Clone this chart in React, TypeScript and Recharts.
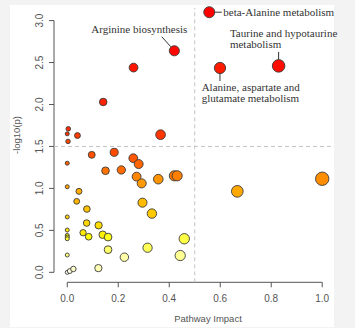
import React from 'react';
import { ScatterChart, Scatter, XAxis, YAxis, ReferenceLine } from 'recharts';

// Pathway impact (x) and -log10(p) (y) for each pathway
const impact = [
  0.557, 0.42, 0.26, 0.599, 0.829, 0.141, 0.366, 0.004, 0.0, 0.04,
  0.003, 0.096, 0.184, 0.259, 0.28, 0.0, 0.15, 0.212, 0.272, 0.292,
  0.357, 0.42, 0.431, 1.0, 0.667, 0.0, 0.046, 0.037, 0.077, 0.295,
  0.332, 0.0, 0.076, 0.123, 0.0, 0.062, 0.0, 0.0, 0.0, 0.084,
  0.139, 0.16, 0.16, 0.224, 0.315, 0.459, 0.443, 0.0, 0.122, 0.0,
  0.01, 0.024,
];
const logP = [
  3.10, 2.64, 2.44, 2.435, 2.46, 2.03, 1.64, 1.71, 1.65, 1.63,
  1.56, 1.40, 1.43, 1.36, 1.29, 1.30, 1.21, 1.22, 1.14, 1.06,
  1.11, 1.15, 1.15, 1.115, 0.965, 1.02, 0.965, 0.846, 0.754, 0.83,
  0.70, 0.66, 0.587, 0.56, 0.504, 0.472, 0.44, 0.42, 0.40, 0.424,
  0.448, 0.42, 0.27, 0.18, 0.293, 0.40, 0.20, 0.206, 0.05, 0.0,
  0.015, 0.04,
];
const pathwayLabels = [
  'beta-Alanine metabolism',
  'Arginine biosynthesis',
  '',
  'Alanine, aspartate and|glutamate metabolism',
  'Taurine and hypotaurine|metabolism',
];

const xTicks = [0, 0.2, 0.4, 0.6, 0.8, 1.0];
const yTicks = [0, 0.5, 1.0, 1.5, 2.0, 2.5, 3.0];
const xDomain = [-0.052, 1.036];
const yDomain = [-0.119, 3.15];
const impactCutoff = 0.5;
const pCutoff = 1.5;

// ---- colour (R heat.colors by rank) ----
function hsvHex(h: number, s: number, v: number) {
  const i = Math.floor(h * 6);
  const f = h * 6 - i;
  const p = v * (1 - s);
  const q = v * (1 - f * s);
  const t = v * (1 - (1 - f) * s);
  let r = 0, g = 0, b = 0;
  switch (i % 6) {
    case 0: r = v; g = t; b = p; break;
    case 1: r = q; g = v; b = p; break;
    case 2: r = p; g = v; b = t; break;
    case 3: r = p; g = q; b = v; break;
    case 4: r = t; g = p; b = v; break;
    default: r = v; g = p; b = q;
  }
  const h2 = (x: number) => Math.round(x * 255).toString(16).padStart(2, '0');
  return '#' + h2(r) + h2(g) + h2(b);
}
function heatColors(n: number) {
  const j = Math.floor(n / 4);
  const i = n - j;
  const out: string[] = [];
  for (let k = 0; k < i; k++) out.push(hsvHex((k / (i - 1)) * (1 / 6), 1, 1));
  for (let k = 0; k < j; k++) {
    const s0 = 1 - 1 / (2 * j), s1 = 1 / (2 * j);
    const s = j > 1 ? s0 + (s1 - s0) * (k / (j - 1)) : s0;
    out.push(hsvHex(1 / 6, s, 1));
  }
  return out;
}

const n = impact.length;
const palette = heatColors(n);
const order = logP.map((v, i) => i).sort((a, b) => logP[b] - logP[a]);
const colorOf: string[] = new Array(n);
order.forEach((idx, rank) => { colorOf[idx] = palette[rank]; });

const points = impact.map((x, i) => ({
  impact: x,
  logp: logP[i],
  color: colorOf[i],
  label: pathwayLabels[i] || '',
}));
const labeled = points.filter((p) => p.label);

const radiusOf = (x: number) => 2 + 4.7 * Math.sqrt(x);

const Dot = (props: any) => {
  const { cx, cy, payload } = props;
  if (cx == null || cy == null) return null;
  return (
    <circle cx={cx} cy={cy} r={radiusOf(payload.impact)} fill={payload.color}
      stroke="#3a3a3a" strokeWidth={0.9} />
  );
};

const serif = '"Liberation Serif", "Times New Roman", serif';
const sans = '"Liberation Sans", Arial, sans-serif';

const Note = (props: any) => {
  const { cx, cy, payload } = props;
  if (cx == null || cy == null) return null;
  const r = radiusOf(payload.impact);
  const lines: string[] = payload.label.split('|');
  const common = { fontFamily: serif, fontSize: 11, fill: '#333' } as any;
  const ln = { stroke: '#333', strokeWidth: 1 };
  if (lines[0].startsWith('beta')) {
    return (
      <g>
        <line x1={cx + r} y1={cy} x2={cx + r + 7} y2={cy} {...ln} />
        <text x={cx + r + 8.5} y={cy + 3.5} {...common}>{lines[0]}</text>
      </g>
    );
  }
  if (lines[0].startsWith('Arginine')) {
    return (
      <g>
        <line x1={cx - 12.5} y1={cy - 14} x2={cx - 3.5} y2={cy - 4} {...ln} />
        <text x={cx - 35} y={cy - 18.2} textAnchor="middle" {...common}>{lines[0]}</text>
      </g>
    );
  }
  if (lines[0].startsWith('Taurine')) {
    return (
      <g>
        <line x1={cx} y1={cy - 14} x2={cx} y2={cy - r} {...ln} />
        <text x={cx - 48.7} y={cy - 29} {...common}>{lines[0]}</text>
        <text x={cx - 48.7} y={cy - 17.5} {...common}>{lines[1]}</text>
      </g>
    );
  }
  return (
    <g>
      <line x1={cx} y1={cy + r} x2={cx} y2={cy + 13} {...ln} />
      <text x={cx - 18.3} y={cy + 22.8} {...common}>{lines[0]}</text>
      <text x={cx - 18.3} y={cy + 33.8} {...common}>{lines[1]}</text>
    </g>
  );
};

const YTick = (props: any) => {
  const { x, y, payload } = props;
  return (
    <text x={x} y={y} transform={`rotate(-90, ${x}, ${y})`} textAnchor="middle"
      fontSize={10} fill="#555" fontFamily={sans}>
      {Number(payload.value).toFixed(1)}
    </text>
  );
};

const XTitle = () => (
  <text x={208} y={322} textAnchor="middle" fontSize={9.5} fill="#555" fontFamily={sans}>
    Pathway Impact
  </text>
);
const YTitle = () => (
  <text x={20} y={135} transform="rotate(-90, 20, 135)" textAnchor="middle" fontSize={9.5}
    fill="#555" fontFamily={sans}>
    -log10(p)
  </text>
);

export default function App() {
  return (
    <div style={{ position: 'absolute', left: 0, top: 0, width: 355, height: 328, background: '#f3f3f3' }}>
      <div style={{ position: 'absolute', left: 10, top: 5, width: 324, height: 322, background: '#ffffff' }} />
      <div style={{ position: 'absolute', left: 0, top: 0 }}>
        <ScatterChart width={355} height={328} margin={{ top: 8, right: 23.6, bottom: 0, left: 0 }}>
          <XAxis type="number" dataKey="impact" domain={xDomain} ticks={xTicks}
            axisLine={false} tickSize={5} tickMargin={8} height={45.7}
            tickLine={{ stroke: '#555' }}
            tick={{ fontSize: 10, fill: '#555', fontFamily: sans }}
            tickFormatter={(v: number) => v.toFixed(1)}
            label={<XTitle />} />
          <YAxis type="number" dataKey="logp" domain={yDomain} ticks={yTicks}
            axisLine={false} tickSize={5} tickMargin={6} width={54}
            tickLine={{ stroke: '#555' }}
            tick={<YTick />}
            label={<YTitle />} />
          <ReferenceLine segment={[{ x: xTicks[0], y: yDomain[0] }, { x: xTicks[xTicks.length - 1], y: yDomain[0] }]}
            stroke="#555" ifOverflow="visible" />
          <ReferenceLine segment={[{ x: xDomain[0], y: yTicks[0] }, { x: xDomain[0], y: yTicks[yTicks.length - 1] }]}
            stroke="#555" ifOverflow="visible" />
          <ReferenceLine y={pCutoff} stroke="#c4c4c4" strokeDasharray="4 3" />
          <ReferenceLine x={impactCutoff} stroke="#c4c4c4" strokeDasharray="4 3" />
          <Scatter data={points} dataKey="logp" shape={<Dot />} isAnimationActive={false} />
          <Scatter data={labeled} dataKey="logp" shape={<Note />} isAnimationActive={false} />
        </ScatterChart>
      </div>
    </div>
  );
}
